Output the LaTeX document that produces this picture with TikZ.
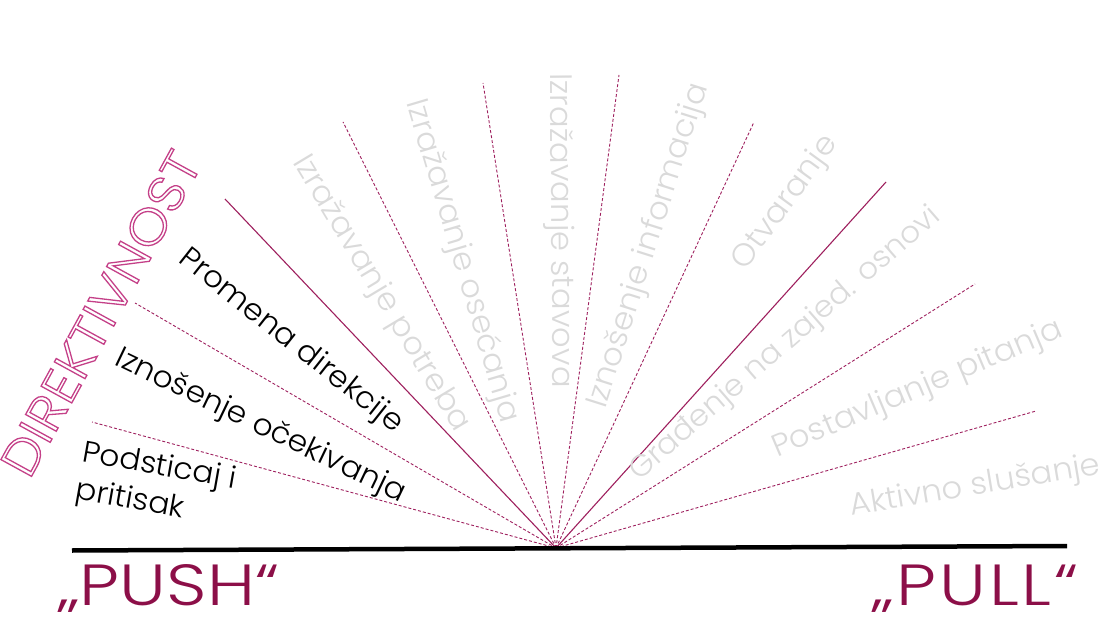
\documentclass[tikz,border=0pt]{standalone}
\usepackage{fontspec}
\setmainfont{Poppins Light}
\newfontfamily\lblfont{Poppins Light}[FakeStretch=1.04]
\newfontfamily\bigfont{Poppins Light}[FakeStretch=1.10]
\newfontfamily\ppfont{Poppins Light}[FakeStretch=1.22]
\newfontfamily\pullfont{Poppins Light}[FakeStretch=1.22,LetterSpace=5]
\definecolor{linec}{RGB}{158,32,94}
\definecolor{pushc}{RGB}{140,15,72}
\definecolor{direkc}{RGB}{196,64,136}
\definecolor{greyc}{RGB}{218,218,218}
\newcommand\outlinetxt[1]{\special{pdf:literal direct 1 Tr 1.3 w}#1\special{pdf:literal direct 0 Tr}}
\begin{document}
\begin{tikzpicture}[x=1pt,y=-1pt,
  fandash/.style={draw=linec,line width=0.9pt,dash pattern=on 3pt off 2pt},
  fansolid/.style={draw=linec,line width=1.1pt},
  lbl/.style={inner sep=0pt,anchor=west,font=\lblfont\fontsize{31}{37}\selectfont},
  greylbl/.style={lbl,text=greyc},
  blacklbl/.style={lbl,text=black,font=\lblfont\fontsize{30}{37}\selectfont},
  pp/.style={inner sep=0pt,anchor=base west,text=pushc,font=\ppfont\fontsize{58}{60}\selectfont}]
\useasboundingbox (0,0) rectangle (1108,620);
\coordinate (O) at (556,548);
\coordinate (e1) at (92,422);
\coordinate (e2) at (135,303);
\coordinate (e3) at (225,199);
\coordinate (e4) at (343,122);
\coordinate (e5) at (483,83);
\coordinate (e6) at (619,75);
\coordinate (e7) at (754,122);
\coordinate (e8) at (886,182);
\coordinate (e9) at (975,284);
\coordinate (e10) at (1036,411);
\coordinate (bl) at (72,550.5);
\coordinate (br) at (1067,546);
\draw[fandash] (O) -- (e1);
\draw[fandash] (O) -- (e2);
\draw[fansolid] (O) -- (e3);
\draw[fandash] (O) -- (e4);
\draw[fandash] (O) -- (e5);
\draw[fandash] (O) -- (e6);
\draw[fandash] (O) -- (e7);
\draw[fansolid] (O) -- (e8);
\draw[fandash] (O) -- (e9);
\draw[fandash] (O) -- (e10);
\draw[line width=4.5pt,black] (bl) -- (br);
% left labels
\node[blacklbl,rotate=-38.3] (t1) at (182,256) {Promena direkcije};
\node[blacklbl,rotate=-25.6] (t2) at (117,358) {Iznošenje očekivanja};
\node[inner sep=0pt,anchor=north west,align=left,rotate=-10,font=\lblfont\fontsize{30}{38}\selectfont] (t3) at (85,439) {Podsticaj i\\pritisak};
% grey labels
\node[greylbl,rotate=-59] (g1) at (299,158) {Izražavanje potreba};
\node[greylbl,rotate=-73.5] (g2) at (414,100) {Izražavanje osećanja};
\node[greylbl,rotate=-89.5] (g3) at (558,73) {Izražavanje stavova};
\node[greylbl,rotate=72.4] (g4) at (598,407) {Iznošenje informacija};
\node[greylbl,rotate=54] (g5) at (739,267) {Otvaranje};
\node[greylbl,rotate=41,font=\lblfont\fontsize{30}{37}\selectfont] (g6) at (634,476) {Građenje na zajed. osnovi};
\node[greylbl,rotate=23] (g7) at (774,451) {Postavljanje pitanja};
\node[greylbl,rotate=9.5] (g8) at (850,508) {Aktivno slušanje};
% direktivnost
\node[inner sep=0pt,anchor=west,rotate=61.3,text=direkc,font=\bigfont\fontsize{50}{52}\selectfont] (d) at (14,472) {\outlinetxt{DIREKTIVNOST}};
% push pull
\node[pp] (push) at (58,605) {„PUSH“};
\node[pp,font=\pullfont\fontsize{58}{60}\selectfont] (pull) at (872,605) {„PULL“};
\end{tikzpicture}
\end{document}
